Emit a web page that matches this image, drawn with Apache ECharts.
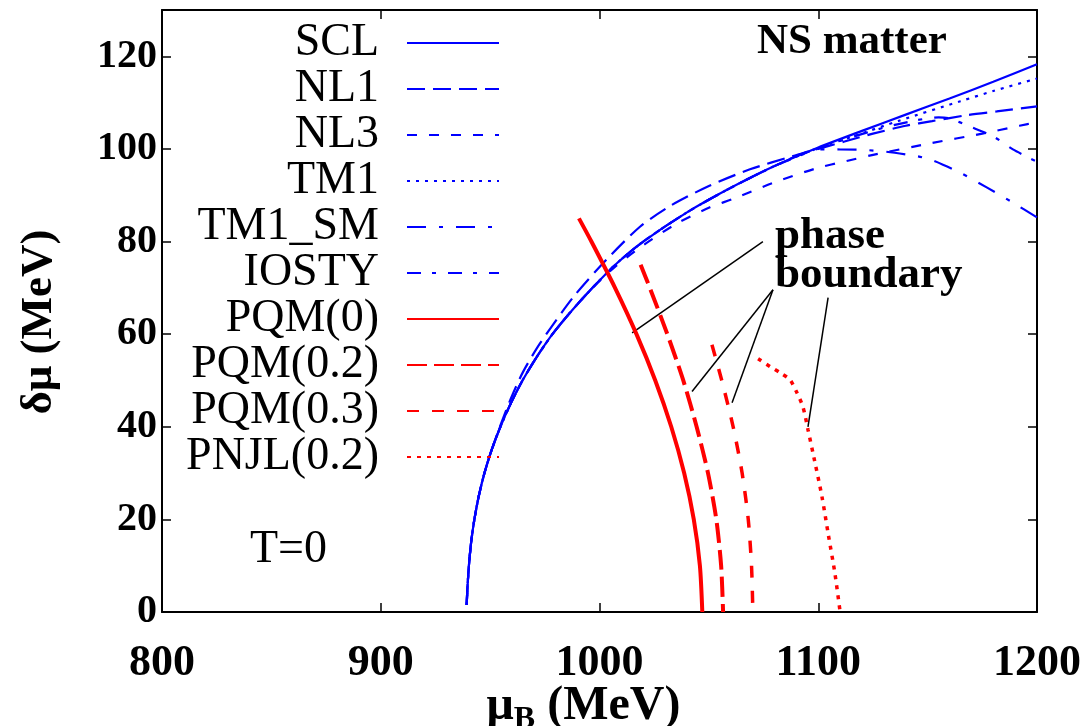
<!DOCTYPE html>
<html>
<head>
<meta charset="utf-8">
<script src="https://cdn.jsdelivr.net/npm/echarts@6/dist/echarts.min.js"></script>
<style>
  html, body { margin: 0; padding: 0; background: #fff; }
  #chart { width: 1089px; height: 726px; }
</style>
</head>
<body>
<div id="chart"></div>
<script>
// 曲线数据 [μB, δμ]
// 各曲线低段重合，取共用的低段
const lowBranch = [[939.3, 1.5], [939.6, 5], [940.3, 10], [941.3, 15], [942.8, 20], [944.8, 25], [947.4, 30], [950.7, 35], [954.7, 40], [959.4, 45], [964.8, 50], [971.2, 55], [978.5, 60], [987.2, 65], [996.8, 70]]
const scl = [...lowBranch, [1007.2, 75], [1020, 80], [1040, 86.3], [1060, 91.6], [1080, 96.3], [1100, 100.3], [1120, 103.9], [1140, 107.4], [1160, 110.9], [1180, 114.5], [1200, 118.3]]
const nl1 = [[939.3, 1.5], [939.6, 5], [940.3, 10], [941.3, 15], [942.8, 20], [944.8, 25], [947.4, 30], [950.7, 35], [954.7, 40.3], [959.4, 46], [965, 51.8], [972.8, 58], [988, 68], [1003, 76], [1018.5, 83.2], [1032, 87.6], [1050, 92], [1068.8, 95.6], [1088, 98.4], [1100, 100], [1112, 101.6], [1125, 103.3], [1140, 105], [1152, 106], [1168, 107.3], [1181.6, 108.1], [1200, 109.2]]
const nl3 = [...lowBranch, [1007.2, 74.6], [1020, 79.2], [1035, 83.8], [1050.5, 87.4], [1061, 89.2], [1079, 92.6], [1099, 95.8], [1113, 97.4], [1124, 98.6], [1151, 101.2], [1175, 103.3], [1192, 105], [1200, 105.8]]
const tm1 = [...lowBranch, [1007.2, 75], [1020, 80], [1040, 86.3], [1060, 91.6], [1080, 96.3], [1100, 100.2], [1116, 102.7], [1137, 106.1], [1165, 110.3], [1180, 112.5], [1200, 115.2]]
const tm1sm = [...lowBranch, [1007.2, 75], [1020, 80], [1040, 86.3], [1060, 91.6], [1080, 96.3], [1100, 99.9], [1120, 99.8], [1131, 99.4], [1143, 98.6], [1150, 97.9], [1157, 96.6], [1164.8, 94.9], [1177, 91.7], [1189, 88.4], [1200, 85.2]]
const iosty = [...lowBranch, [1007.2, 75], [1020, 80], [1040, 86.3], [1060, 91.6], [1080, 96.3], [1100, 100.1], [1115, 102.5], [1130, 104.6], [1145, 106.2], [1155, 106.8], [1160, 106.6], [1169, 104.9], [1180, 102.7], [1189, 99.9], [1200, 97.2]]
const pqm0 = [[990.6, 85], [996.3, 80], [1007.1, 70], [1016.9, 60], [1025.5, 50], [1032.8, 40], [1038.7, 30], [1043.1, 20], [1045.9, 10], [1047, 0]]
const pqm02 = [[1018.8, 75], [1023, 70], [1031, 60], [1038.3, 50], [1044.4, 40], [1049.6, 30], [1053.4, 20], [1055.6, 10], [1056.5, 0]]
const pqm03 = [[1051.4, 57.7], [1055.9, 50], [1061.1, 40], [1065.2, 30], [1068, 20], [1069.5, 10], [1070.1, 0]]
const pnjl02 = [[1072.5, 54.7], [1078, 53], [1082.5, 51.7], [1087, 50.2], [1090, 47.6], [1093, 44.3], [1095.3, 39.4], [1097.6, 34.3], [1101.7, 24.9], [1104.5, 17], [1107.6, 8.4], [1110, 0]]

// 标注指示线
const phaseLine = [[1074.7, 80], [1014.9, 60.3]]
const boundLine1 = [[1079.3, 69.6], [1042.3, 47.6]]
const boundLine2 = [[1079.3, 69.6], [1060.6, 45.2]]
const boundLine3 = [[1104.5, 67.9], [1095.3, 40]]

const legendNames = ['SCL', 'NL1', 'NL3', 'TM1', 'TM1_SM', 'IOSTY', 'PQM(0)', 'PQM(0.2)', 'PQM(0.3)', 'PNJL(0.2)']
const xTicks = { min: 800, max: 1200, interval: 100 }
const yTicks = { min: 0, max: 130, interval: 20 }

const BLUE = '#0000ff', RED = '#ff0000'
const SERIF = '"Liberation Serif", "DejaVu Serif", serif'

const chart = echarts.init(document.getElementById('chart'))

const curve = (name, data, color, width, type) => ({
  name,
  type: 'line',
  data,
  symbol: 'none',
  smooth: 0.25,
  lineStyle: { color, width, type, cap: 'butt' },
  itemStyle: { color },
  emphasis: { disabled: true },
  z: 3
})

const pointer = data => ({
  type: 'line',
  data,
  symbol: 'none',
  lineStyle: { color: '#000', width: 1.5 },
  emphasis: { disabled: true },
  silent: true,
  z: 2
})

const axisCommon = {
  type: 'value',
  axisLine: { show: true, onZero: false, lineStyle: { color: '#000', width: 2 } },
  axisTick: { show: true, inside: true, length: 9, lineStyle: { color: '#000', width: 1.5 } },
  splitLine: { show: false }
}

const option = {
  animation: false,
  backgroundColor: '#fff',
  grid: { left: 162, right: 52, top: 10, bottom: 114, outerBoundsMode: 'none', containLabel: false },

  xAxis: [
    {
      ...axisCommon,
      ...xTicks,
      position: 'bottom',
      axisLabel: {
        margin: 30,
        color: '#000',
        fontFamily: SERIF,
        fontWeight: 'bold',
        fontSize: 44,
        formatter: v => String(v)
      },
      name: '{m|μ}{s|B}{m| (MeV)}',
      nameLocation: 'middle',
      nameGap: 66,
      nameMoveOverlap: false,
      nameTextStyle: {
        padding: [0, 32, 0, 0],
        rich: {
          m: { fontFamily: SERIF, fontWeight: 'bold', fontSize: 48, color: '#000' },
          s: { fontFamily: SERIF, fontWeight: 'bold', fontSize: 32, color: '#000', padding: [26, 0, 0, 0] }
        }
      }
    },
    { ...axisCommon, ...xTicks, position: 'top', axisLabel: { show: false } }
  ],

  yAxis: [
    {
      ...axisCommon,
      ...yTicks,
      position: 'left',
      axisLabel: { margin: 5, color: '#000', fontFamily: SERIF, fontWeight: 'bold', fontSize: 40, showMaxLabel: false },
      name: 'δμ (MeV)',
      nameLocation: 'middle',
      nameGap: 100,
      nameMoveOverlap: false,
      nameTextStyle: { fontFamily: SERIF, fontWeight: 'bold', fontSize: 45, color: '#000', padding: [0, 22, 0, 0] }
    },
    { ...axisCommon, ...yTicks, position: 'right', axisLabel: { show: false } }
  ],

  legend: {
    data: legendNames,
    orient: 'vertical',
    align: 'right',
    right: 589,
    top: 20,
    padding: 0,
    itemGap: 0,
    itemWidth: 92,
    itemHeight: 14,
    itemStyle: { opacity: 0 },
    selectedMode: false,
    textStyle: { fontFamily: SERIF, fontSize: 46, color: '#000', lineHeight: 45.3, padding: [0, 23, 0, 0] }
  },

  graphic: [
    { type: 'text', left: 757, top: 20, style: { text: 'NS matter', font: 'bold 43px ' + SERIF, fill: '#000' } },
    { type: 'text', left: 775, top: 214, style: { text: 'phase', font: 'bold 45px ' + SERIF, fill: '#000' } },
    { type: 'text', left: 775, top: 253, style: { text: 'boundary', font: 'bold 45px ' + SERIF, fill: '#000' } },
    { type: 'text', left: 250, top: 527, style: { text: 'T=0', font: '46px ' + SERIF, fill: '#000' } }
  ],

  series: [
    curve('SCL', scl, BLUE, 2.2, 'solid'),
    curve('NL1', nl1, BLUE, 2.2, [18, 8]),
    curve('NL3', nl3, BLUE, 2.2, [10, 12]),
    curve('TM1', tm1, BLUE, 2.2, [3, 6]),
    curve('TM1_SM', tm1sm, BLUE, 2.2, [19, 13, 4, 13]),
    curve('IOSTY', iosty, BLUE, 2.2, [14, 11, 4, 12]),
    curve('PQM(0)', pqm0, RED, 4, 'solid'),
    curve('PQM(0.2)', pqm02, RED, 4, [20, 7]),
    curve('PQM(0.3)', pqm03, RED, 3.5, [12, 13]),
    curve('PNJL(0.2)', pnjl02, RED, 3.5, [4, 6]),
    pointer(phaseLine),
    pointer(boundLine1),
    pointer(boundLine2),
    pointer(boundLine3)
  ]
}

chart.setOption(option)
</script>
</body>
</html>
